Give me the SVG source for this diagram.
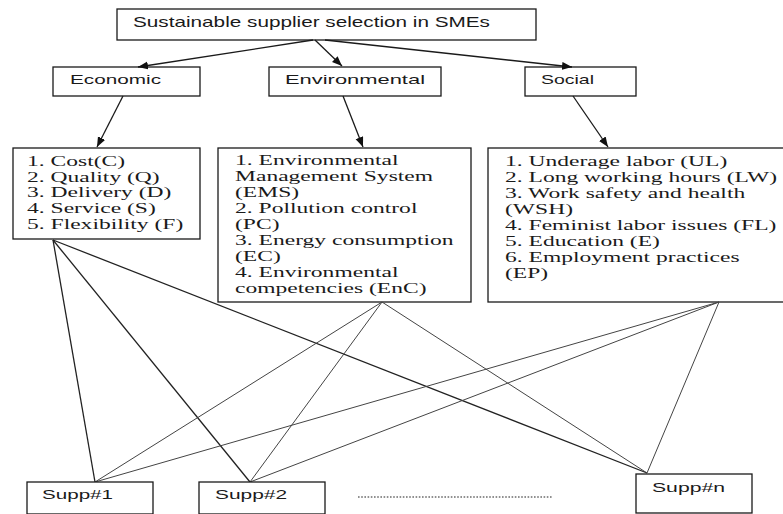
<svg xmlns="http://www.w3.org/2000/svg" width="783" height="514" viewBox="0 0 783 514">
<style>
.box{fill:#fff;stroke:#1a1a1a;stroke-width:1.3}
.sans{font-family:"Liberation Sans",Arial,sans-serif;fill:#1a1a1a}
.serif{font-family:"Liberation Serif","Times New Roman",serif;font-size:15px;fill:#1a1a1a}
.arrow{stroke:#1a1a1a;stroke-width:1.3;fill:none;marker-end:url(#ah)}
.link{stroke:#444;stroke-width:1;fill:none}
.link-dark{stroke:#222;stroke-width:1.3;fill:none}
</style>
<defs>
<marker id="ah" markerUnits="userSpaceOnUse" markerWidth="11" markerHeight="9" refX="10" refY="4" orient="auto">
<path d="M0,0 L10,4 L0,8 z" fill="#111"/>
</marker>
</defs>
<rect width="783" height="514" fill="#fff"/>

<g id="root">
<rect class="box" x="117" y="9" width="419" height="31"/>
<text class="sans" x="133" y="27" font-size="15" textLength="357" lengthAdjust="spacingAndGlyphs">Sustainable supplier selection in SMEs</text>
</g>

<g id="economic">
<rect class="box" x="53" y="67" width="147" height="29"/>
<text class="sans" x="70" y="84" font-size="13.5" textLength="91" lengthAdjust="spacingAndGlyphs">Economic</text>
</g>
<g id="environmental">
<rect class="box" x="269" y="67" width="172" height="29"/>
<text class="sans" x="285" y="84" font-size="13.5" textLength="140" lengthAdjust="spacingAndGlyphs">Environmental</text>
</g>
<g id="social">
<rect class="box" x="525" y="67" width="111" height="29"/>
<text class="sans" x="541" y="84" font-size="13.5" textLength="53" lengthAdjust="spacingAndGlyphs">Social</text>
</g>

<g id="economic-criteria">
<rect class="box" x="13" y="148" width="187" height="91"/>
<g transform="translate(27,0) scale(1.57,1)">
<text class="serif" x="0" y="166">1. Cost(C)</text>
<text class="serif" x="0" y="181.7">2. Quality (Q)</text>
<text class="serif" x="0" y="197.4">3. Delivery (D)</text>
<text class="serif" x="0" y="213.1">4. Service (S)</text>
<text class="serif" x="0" y="228.8">5. Flexibility (F)</text>
</g>
</g>

<g id="environmental-criteria">
<rect class="box" x="218" y="148" width="253" height="154"/>
<g transform="translate(235,0) scale(1.57,1)">
<text class="serif" x="0" y="165">1. Environmental</text>
<text class="serif" x="0" y="181">Management System</text>
<text class="serif" x="0" y="197">(EMS)</text>
<text class="serif" x="0" y="213">2. Pollution control</text>
<text class="serif" x="0" y="229">(PC)</text>
<text class="serif" x="0" y="245">3. Energy consumption</text>
<text class="serif" x="0" y="261">(EC)</text>
<text class="serif" x="0" y="277">4. Environmental</text>
<text class="serif" x="0" y="293">competencies (EnC)</text>
</g>
</g>

<g id="social-criteria">
<rect class="box" x="488" y="148" width="310" height="154"/>
<g transform="translate(505,0) scale(1.57,1)">
<text class="serif" x="0" y="166">1. Underage labor (UL)</text>
<text class="serif" x="0" y="182">2. Long working hours (LW)</text>
<text class="serif" x="0" y="198">3. Work safety and health</text>
<text class="serif" x="0" y="214">(WSH)</text>
<text class="serif" x="0" y="230">4. Feminist labor issues (FL)</text>
<text class="serif" x="0" y="246">5. Education (E)</text>
<text class="serif" x="0" y="262">6. Employment practices</text>
<text class="serif" x="0" y="278">(EP)</text>
</g>
</g>

<g id="connectors">
<line class="arrow" x1="313" y1="40" x2="138" y2="67"/>
<line class="arrow" x1="315" y1="40" x2="342" y2="66"/>
<line class="arrow" x1="325" y1="40" x2="572" y2="67"/>
<line class="arrow" x1="123" y1="96" x2="97" y2="147"/>
<line class="arrow" x1="343" y1="96" x2="363" y2="147"/>
<line class="arrow" x1="573" y1="96" x2="608" y2="147"/>

<line class="link-dark" x1="53" y1="240" x2="95" y2="482"/>
<line class="link-dark" x1="53" y1="240" x2="250" y2="482"/>
<line class="link-dark" x1="53" y1="240" x2="647" y2="473"/>

<line class="link" x1="382" y1="302" x2="95" y2="482"/>
<line class="link" x1="382" y1="302" x2="250" y2="482"/>
<line class="link" x1="382" y1="302" x2="647" y2="473"/>

<line class="link" x1="719" y1="302" x2="95" y2="482"/>
<line class="link" x1="719" y1="302" x2="250" y2="482"/>
<line class="link" x1="719" y1="302" x2="647" y2="473"/>
</g>

<g id="supp1">
<rect class="box" x="27" y="482" width="126" height="32"/>
<text class="sans" x="42" y="499" font-size="13.5" textLength="71" lengthAdjust="spacingAndGlyphs">Supp#1</text>
</g>
<g id="supp2">
<rect class="box" x="199" y="482" width="126" height="32"/>
<text class="sans" x="215" y="499" font-size="13.5" textLength="72" lengthAdjust="spacingAndGlyphs">Supp#2</text>
</g>
<g id="ellipsis">
<line x1="358" y1="497" x2="552" y2="497" stroke="#222" stroke-width="1.2" stroke-dasharray="1.6 1.6"/>
</g>
<g id="suppn">
<rect class="box" x="636" y="474" width="116" height="39"/>
<text class="sans" x="652" y="492" font-size="13.5" textLength="73" lengthAdjust="spacingAndGlyphs">Supp#n</text>
</g>
</svg>
